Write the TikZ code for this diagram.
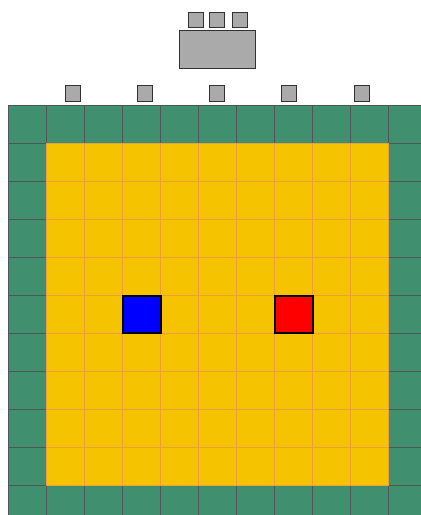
\documentclass[tikz,border=0pt]{standalone}
\usetikzlibrary{positioning}
\definecolor{gridgreen}{RGB}{64,143,110}
\definecolor{gridyellow}{RGB}{245,195,0}
\definecolor{lineorange}{RGB}{236,158,62}
\definecolor{linedark}{RGB}{80,85,85}
\definecolor{boxgray}{RGB}{170,170,170}
\definecolor{boxedge}{RGB}{50,50,50}
\tikzset{
  greencell/.style={fill=gridgreen,draw=linedark,line width=1pt},
  yellowcell/.style={fill=gridyellow,draw=lineorange,line width=1pt},
  graybox/.style={fill=boxgray,draw=boxedge,line width=0.9pt},
  piece/.style={draw=black,line width=2pt}
}
\begin{document}
\begin{tikzpicture}[x=1pt,y=-1pt]
\useasboundingbox (0,0) rectangle (421,515);
\fill[white] (0,0) rectangle (421,515);
\begin{scope}
\clip (0,0) rectangle (421,515);
\foreach \i in {0,...,10}
  \foreach \j in {0,...,10}
    \draw[greencell] ({8+38*\i},{105+38*\j}) rectangle ++(38,38);
\foreach \i in {1,...,9}
  \foreach \j in {1,...,9}
    \draw[yellowcell] ({8+38*\i},{105+38*\j}) rectangle ++(38,38);
\end{scope}
% pieces
\draw[piece,fill=blue] (123,296) rectangle (161,333);
\draw[piece,fill=red] (275,296) rectangle (313,333);
% gray elements above
\draw[graybox] (179,30) rectangle (255.5,68);
\foreach \x in {195.5,217,239.5}
  \draw[graybox] ({\x-7.5},12) rectangle ++(15,15);
\foreach \x in {73,145,217,289,362}
  \draw[graybox] ({\x-7.5},85.5) rectangle ++(15,15.5);
\end{tikzpicture}
\end{document}
